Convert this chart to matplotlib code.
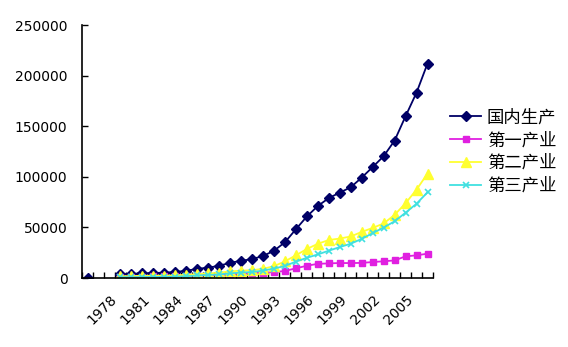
import numpy as np
import matplotlib
matplotlib.use("Agg")
import matplotlib.pyplot as plt
from matplotlib.ticker import FixedLocator

nan = np.nan

# category axis as it appears in the chart (two empty slots before 1978)
categories = ['', ''] + [str(y) for y in range(1978, 2008)]

gdp = [0, nan, nan,
       3645.2, 4062.6, 4545.6, 4891.6, 5323.4, 5962.7, 7208.1, 9016.0,
       10275.2, 12058.6, 15042.8, 16992.3, 18667.8, 21781.5, 26923.5,
       35333.9, 48197.9, 60793.7, 71176.6, 78973.0, 84402.3, 89677.1,
       99214.6, 109655.2, 120332.7, 135822.8, 159878.3, 183217.4, 211923.5]
primary = [nan, nan, nan,
           1027.5, 1270.2, 1371.6, 1559.5, 1777.4, 1978.4, 2316.1, 2564.4,
           2788.7, 3233.0, 3865.4, 4265.9, 5062.0, 5342.2, 5866.6,
           6963.8, 9572.7, 12135.8, 14015.4, 14441.9, 14817.6, 14770.0,
           14944.7, 15781.3, 16537.0, 17381.7, 21412.7, 22420.0, 24040.0]
secondary = [nan, nan, nan,
             1745.2, 1913.5, 2192.0, 2255.5, 2383.0, 2646.2, 3105.7, 3866.6,
             4492.7, 5251.6, 6587.2, 7278.0, 7717.4, 9102.2, 11699.5,
             16454.4, 22445.4, 28679.5, 33835.0, 37543.0, 39004.2, 41033.6,
             45555.9, 49512.3, 53896.8, 62436.3, 73904.3, 87364.6, 103162.0]
tertiary = [nan, nan, nan,
            872.5, 878.9, 982.0, 1076.6, 1163.0, 1338.1, 1786.3, 2585.0,
            2993.8, 3574.0, 4590.3, 5448.4, 5888.4, 7337.1, 9357.4,
            11915.7, 16179.8, 19978.5, 23326.2, 26988.1, 30580.5, 33873.4,
            38714.0, 44361.6, 49898.9, 56004.7, 64561.3, 73432.9, 84721.4]

series_names = ['国内生产', '第一产业', '第二产业', '第三产业']
y_ticks = [0, 50000, 100000, 150000, 200000, 250000]

plt.rcParams['font.family'] = ['DejaVu Sans']

fig = plt.figure(figsize=(5.68, 3.47), dpi=100)
ax = fig.add_axes([0.1444, 0.1988, 0.6179, 0.7291])

x = np.arange(len(categories))

ax.plot(x, gdp, color='#000066', marker='D', markersize=5, lw=1.3,
        label=series_names[0])
ax.plot(x, primary, color='#E020E0', marker='s', markersize=5, lw=1.3,
        label=series_names[1])
ax.plot(x, secondary, color='#FFFF30', marker='^', markersize=6.5, lw=1.3,
        label=series_names[2])
ax.plot(x, tertiary, color='#40E0E0', marker='x', markersize=5, lw=1.3,
        mew=1.2, label=series_names[3])

ax.set_xlim(-0.5, len(categories) - 0.5)
ax.set_ylim(0, 250000)
ax.set_yticks(y_ticks)
ax.set_yticklabels([str(v) for v in y_ticks], fontsize=10)

# labels every third category, tick marks at category boundaries
shown = list(range(2, len(categories), 3))
ax.set_xticks(shown)
ax.set_xticklabels([categories[i] for i in shown], fontsize=10,
                   rotation=45, ha='right', va='top', rotation_mode='anchor')
ax.xaxis.set_minor_locator(FixedLocator(np.arange(-0.5, len(categories), 1)))
ax.tick_params(axis='x', which='major', length=0, pad=10.5)
ax.tick_params(axis='x', which='minor', direction='in', length=4, width=1)
ax.tick_params(axis='y', direction='in', length=4, width=1, pad=10.5)

for s in ['top', 'right']:
    ax.spines[s].set_visible(False)
for s in ['left', 'bottom']:
    ax.spines[s].set_linewidth(1.2)

leg = ax.legend(loc='center left', bbox_to_anchor=(1.03, 0.5), frameon=False,
                prop={'family': ['Noto Sans CJK SC'], 'size': 12.5},
                handlelength=1.75, handletextpad=0.35, labelspacing=0.28,
                borderaxespad=0)

fig.savefig('out.png', dpi=100)
